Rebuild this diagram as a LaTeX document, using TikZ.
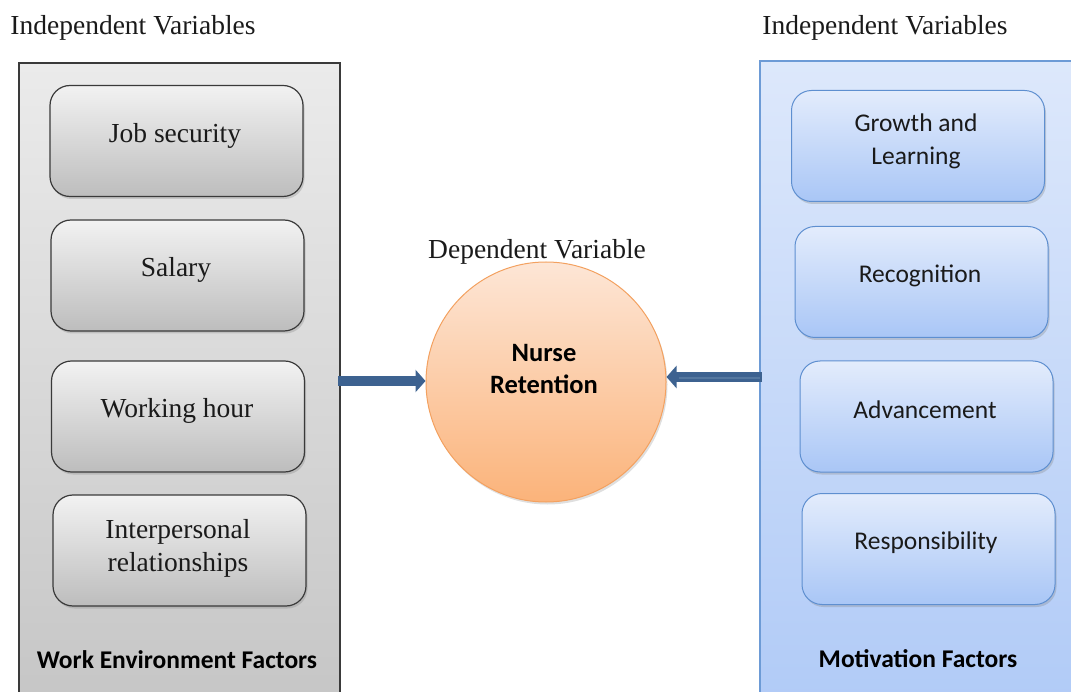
\documentclass[tikz,border=0pt]{standalone}
\usepackage{fontspec}
\setmainfont{Liberation Serif}
\newfontfamily\calib{Carlito}
\usetikzlibrary{shadows,arrows.meta}
\definecolor{panelgrayT}{HTML}{EBEBEB}
\definecolor{panelgrayB}{HTML}{C6C6C6}
\definecolor{panelgrayD}{HTML}{3A3A3A}
\definecolor{boxgrayT}{HTML}{F2F2F2}
\definecolor{boxgrayB}{HTML}{BDBDBD}
\definecolor{panelblueT}{HTML}{DDE8FB}
\definecolor{panelblueB}{HTML}{B1CBF7}
\definecolor{panelblueD}{HTML}{6D9BD6}
\definecolor{boxblueT}{HTML}{E3ECFC}
\definecolor{boxblueB}{HTML}{A9C6F6}
\definecolor{boxblueD}{HTML}{5E8FD0}
\definecolor{circT}{HTML}{FDE6D6}
\definecolor{circB}{HTML}{FBB37A}
\definecolor{circD}{HTML}{F3A160}
\definecolor{arrowblue}{HTML}{3D6290}
\definecolor{arrowlight}{HTML}{54779F}
\definecolor{textdark}{HTML}{1A1A1A}
\tikzset{
  graybox/.style={draw=panelgrayD, line width=1.2pt, rounded corners=20pt,
    top color=boxgrayT, bottom color=boxgrayB, minimum width=253pt, minimum height=111pt,
    inner sep=0pt,
    drop shadow={shadow xshift=1.5pt, shadow yshift=-2.5pt, opacity=0.3}},
  bluebox/.style={draw=boxblueD, line width=1pt, rounded corners=20pt,
    top color=boxblueT, bottom color=boxblueB, minimum width=253pt, minimum height=111pt,
    inner sep=0pt,
    drop shadow={shadow xshift=1.5pt, shadow yshift=-2.5pt, opacity=0.3}},
  seriftext/.style={font=\fontsize{27.5}{33}\selectfont, align=center, inner sep=0pt, text=textdark},
  sanstext/.style={font=\calib\fontsize{25.5}{33}\selectfont, align=center, inner sep=0pt, text=textdark},
  seriflabel/.style={font=\fontsize{27.5}{33}\selectfont, inner sep=0pt, text=textdark},
  boldlabel/.style={font=\calib\bfseries\fontsize{25.5}{30}\selectfont, inner sep=0pt},
  flowarrow/.style={line width=10pt, draw=arrowblue, -{Triangle[width=22pt,length=10pt]}},
}
\begin{document}
\begin{tikzpicture}[x=1pt,y=-1pt]
\useasboundingbox (0,0) rectangle (1071,692);
% panels
\path[draw=panelgrayD, line width=1.2pt, top color=panelgrayT, bottom color=panelgrayB]
  (19,63) rectangle (340,700);
\path[draw=panelblueD, line width=1.2pt, top color=panelblueT, bottom color=panelblueB]
  (760,61) rectangle (1080,700);
% titles
\node[seriflabel] (tl) at (133,28) {Independent Variables};
\node[seriflabel] (tr) at (885,28) {Independent Variables};
% left boxes
\node[graybox] (b1) at (176.5,141) {};
\node[graybox] (b2) at (177.5,275.5) {};
\node[graybox] (b3) at (178,416.5) {};
\node[graybox] (b4) at (179.5,550.5) {};
\node[seriftext] (t1) at (175,136) {Job security};
\node[seriftext] (t2) at (176,270) {Salary};
\node[seriftext] (t3) at (177,411) {Working hour};
\node[seriftext] (t4) at (178,548) {Interpersonal\\relationships};
% right boxes
\node[bluebox] (r1) at (918,146) {};
\node[bluebox] (r2) at (921.5,282) {};
\node[bluebox] (r3) at (926.5,416.5) {};
\node[bluebox] (r4) at (928.5,549) {};
\node[sanstext] (s1) at (916,141) {Growth and\\Learning};
\node[sanstext] (s2) at (920,276) {Recognition};
\node[sanstext] (s3) at (925,410) {Advancement};
\node[sanstext] (s4) at (926,543) {Responsibility};
% factor labels
\node[boldlabel] (wl) at (177,660) {Work Environment Factors};
\node[boldlabel] (ml) at (918,659) {Motivation Factors};
% circle
\node[seriflabel] (dv) at (537,252) {Dependent Variable};
\node[circle, draw=circD, line width=1pt, top color=circT, bottom color=circB,
  minimum size=240pt, inner sep=0pt,
  drop shadow={shadow xshift=1.5pt, shadow yshift=-2.5pt, opacity=0.25}] (nr) at (546,382) {};
\node[font=\calib\bfseries\fontsize{26.5}{32}\selectfont, align=center, inner sep=0pt] (nt) at (544,369) {Nurse\\Retention};
% arrows
\coordinate (la) at (338,381);
\coordinate (ra) at (762,377);
\draw[flowarrow] (la) -- (nr.west |- la);
\draw[flowarrow] (ra) -- (nr.east |- ra);
\draw[line width=2pt, draw=arrowlight, shorten >=12pt, shorten <=2pt] ([yshift=-1pt]ra) -- ([yshift=-1pt]nr.east |- ra);
\end{tikzpicture}
\end{document}
